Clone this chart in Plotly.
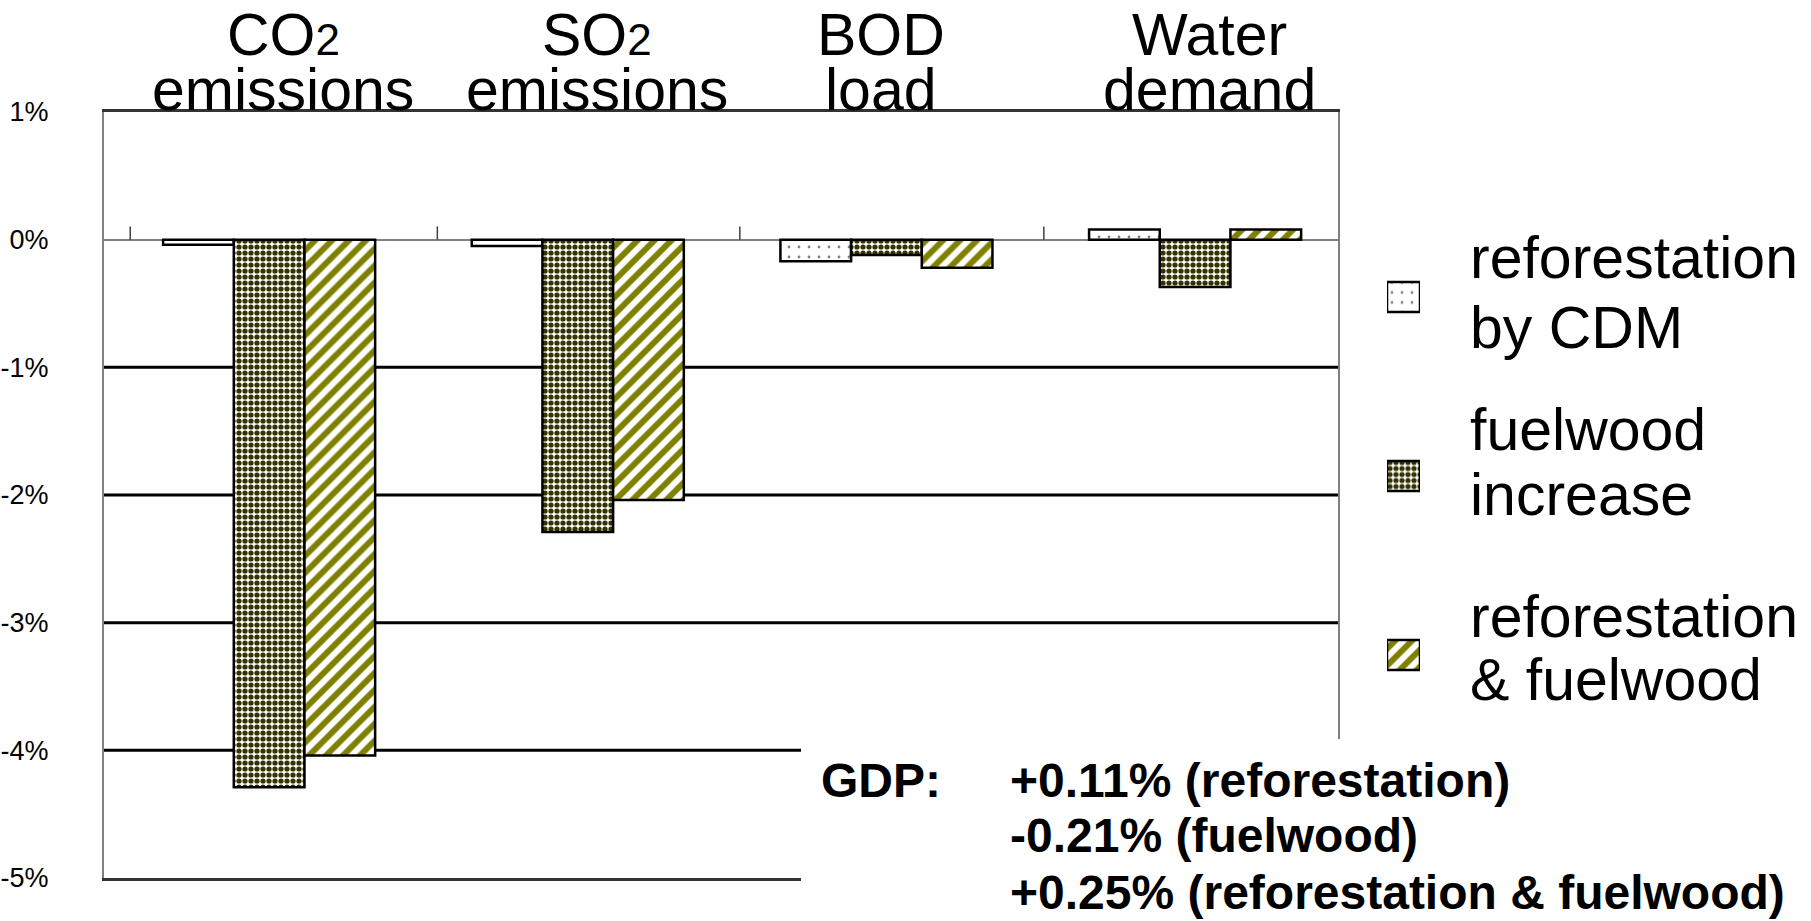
import plotly.graph_objects as go

W, H = 1811, 921

# ---------------- data ----------------
categories = ["CO2 emissions", "SO2 emissions", "BOD load", "Water demand"]
label_line1 = ["CO<span style='font-size:44px'>2</span>",
               "SO<span style='font-size:44px'>2</span>",
               "BOD", "Water"]
label_line2 = ["emissions", "emissions", "load", "demand"]
label_x = [0.045, 1.062, 1.982, 3.048]

series_names = ["reforestation by CDM", "fuelwood increase", "reforestation & fuelwood"]
reforestation_cdm = [-0.04, -0.05, -0.17, 0.08]
fuelwood_increase = [-4.29, -2.29, -0.12, -0.37]
reforestation_fuelwood = [-4.04, -2.04, -0.22, 0.08]

y_tickvals = [1, 0, -1, -2, -3, -4, -5]
y_ticktext = ["1%", "0%", "-1%", "-2%", "-3%", "-4%", "-5%"]
grid_vals = [-1, -2, -3, -4]
separator_x = [-0.45, 0.545, 1.525, 2.51]

legend_lines = [["reforestation", "by CDM"], ["fuelwood", "increase"], ["reforestation", "& fuelwood"]]
gdp_label = "GDP:"
gdp_lines = ["+0.11% (reforestation)", "-0.21% (fuelwood)", "+0.25% (reforestation & fuelwood)"]

# ---------------- styles ----------------
FONT = "Liberation Sans, Arial, Helvetica, sans-serif"
patterns = [
    dict(shape=".", fgcolor="#808080", bgcolor="white", size=10, solidity=0.06, fillmode="replace"),
    dict(shape=".", fgcolor="#333300", bgcolor="white", size=6, solidity=0.6, fillmode="replace"),
    dict(shape="/", fgcolor="#808000", bgcolor="white", size=12, solidity=0.5, fillmode="replace"),
]

PL, PR, PT, PB = 104, 1338, 112, 878


def fx(px):
    return px / W


def fy(py):
    return 1 - py / H


fig = go.Figure()
series_vals = [reforestation_cdm, fuelwood_increase, reforestation_fuelwood]
for name, vals, pat in zip(series_names, series_vals, patterns):
    fig.add_trace(go.Bar(
        x=list(range(len(categories))), y=vals, name=name, showlegend=False,
        marker=dict(color="white", pattern=pat, line=dict(color="black", width=2.5)),
        hoverinfo="skip",
    ))

# legend swatches on a hidden axis
for k, (name, pat) in enumerate(zip(series_names, patterns)):
    fig.add_trace(go.Bar(
        x=[1], y=[2 - k], base=0, width=[0.168], orientation="h", name=name,
        xaxis="x2", yaxis="y2", showlegend=False, hoverinfo="skip",
        marker=dict(color="white", pattern=pat, line=dict(color="black", width=2.5)),
    ))

shapes = []
for g in grid_vals:
    shapes.append(dict(type="line", xref="paper", yref="y", x0=fx(PL), x1=fx(PR), y0=g, y1=g,
                       line=dict(color="black", width=3), layer="below"))
for s in separator_x:
    shapes.append(dict(type="line", xref="x", yref="y", x0=s, x1=s, y0=0, y1=0.104,
                       line=dict(color="#404040", width=1.5), layer="above"))
# white text box for GDP note (covers lower right of plot)
shapes.append(dict(type="rect", xref="paper", yref="paper", x0=fx(801), x1=fx(1346),
                   y0=fy(890), y1=fy(739), fillcolor="white", line=dict(width=0), layer="above"))

annotations = []
for xi, l1, l2 in zip(label_x, label_line1, label_line2):
    annotations.append(dict(x=xi, xref="x", y=fy(55 - 20.4), yref="paper", text=l1, showarrow=False,
                            xanchor="center", yanchor="middle", font=dict(family=FONT, size=59, color="black")))
    annotations.append(dict(x=xi, xref="x", y=fy(110 - 20.4), yref="paper", text=l2, showarrow=False,
                            xanchor="center", yanchor="middle", font=dict(family=FONT, size=59, color="black")))

legend_baselines = [[278, 348], [450, 515], [637, 700]]
for lines, bases in zip(legend_lines, legend_baselines):
    for t, b in zip(lines, bases):
        annotations.append(dict(x=fx(1468), xref="paper", y=fy(b - 20.4), yref="paper", text=t,
                                showarrow=False, xanchor="left", yanchor="middle",
                                font=dict(family=FONT, size=59, color="black")))

gdp_baselines = [797, 852, 909]
annotations.append(dict(x=fx(819), xref="paper", y=fy(gdp_baselines[0] - 16.6), yref="paper",
                        text="<b>" + gdp_label + "</b>", showarrow=False, xanchor="left", yanchor="middle",
                        font=dict(family=FONT, size=48, color="black")))
for t, b in zip(gdp_lines, gdp_baselines):
    annotations.append(dict(x=fx(1008), xref="paper", y=fy(b - 16.6), yref="paper", text="<b>" + t + "</b>",
                            showarrow=False, xanchor="left", yanchor="middle",
                            font=dict(family=FONT, size=48, color="black")))

fig.update_layout(
    width=W, height=H, template="none",
    margin=dict(l=0, r=0, t=0, b=0),
    paper_bgcolor="white", plot_bgcolor="white",
    barmode="group", bargap=0.313, bargroupgap=0,
    showlegend=False,
    xaxis=dict(domain=[fx(PL), fx(PR)], range=[-0.535, 3.463], showticklabels=False, ticks="",
               showgrid=False, zeroline=False, showline=True, mirror=True,
               linecolor="#333333", linewidth=3, automargin=False, fixedrange=True),
    yaxis=dict(domain=[fy(PB), fy(PT)], range=[-5, 1], tickvals=y_tickvals, ticktext=y_ticktext,
               ticks="", ticklabelstandoff=48, showgrid=False, zeroline=True,
               zerolinecolor="#808080", zerolinewidth=1.5, showline=True, mirror=True,
               linecolor="#808080", linewidth=2, automargin=False, fixedrange=True,
               tickfont=dict(family=FONT, size=27, color="black")),
    xaxis2=dict(domain=[fx(1387), fx(1420)], range=[0, 1], visible=False, anchor="y2", fixedrange=True),
    yaxis2=dict(domain=[fy(744.5), fy(207.5)], range=[-0.5, 2.5], visible=False, anchor="x2", fixedrange=True),
    shapes=shapes,
    annotations=annotations,
)

fig.write_html("out.html", config={"displayModeBar": False},
               post_script="document.body.style.margin='0px';document.body.style.overflow='hidden';")
